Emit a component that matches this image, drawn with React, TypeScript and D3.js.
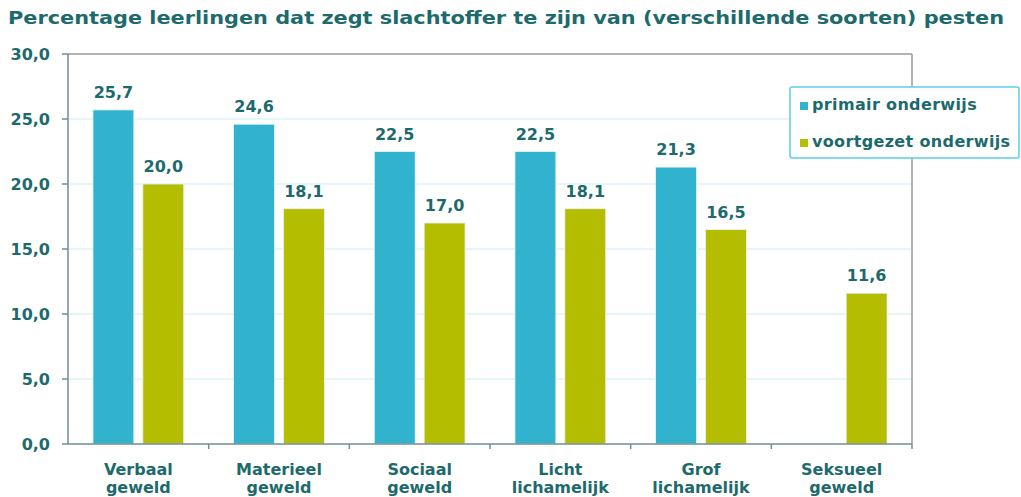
import * as d3 from 'd3';

const categories = [
  ['Verbaal', 'geweld'],
  ['Materieel', 'geweld'],
  ['Sociaal', 'geweld'],
  ['Licht', 'lichamelijk'],
  ['Grof', 'lichamelijk'],
  ['Seksueel', 'geweld'],
];
const primair: (number | null)[] = [25.7, 24.6, 22.5, 22.5, 21.3, null];
const voortgezet: (number | null)[] = [20.0, 18.1, 17.0, 18.1, 16.5, 11.6];
const seriesNames = ['primair onderwijs', 'voortgezet onderwijs'];
const yTicks = [0, 5, 10, 15, 20, 25, 30];

const W = 1021;
const H = 497;
const margin = { top: 54, right: 109, bottom: 53, left: 68 };
const TEXT = '#1d6a6c';
const COLORS = ['#31b3cf', '#b5bd00'];
const FONT = '"DejaVu Sans", Verdana, sans-serif';
const FS = 16;

const fmt = (v: number) => v.toFixed(1).replace('.', ',');

export default function App() {
  const innerW = W - margin.left - margin.right;
  const innerH = H - margin.top - margin.bottom;
  const keys = categories.map((c) => c.join(' '));

  const x = d3.scaleBand().domain(keys).range([0, innerW]);
  const x1 = d3.scaleBand().domain(['0', '1']).range([0, x.bandwidth()]).paddingInner(0.18).paddingOuter(0.5);
  const y = d3.scaleLinear().domain([0, 30]).range([innerH, 0]);
  const series = [primair, voortgezet];

  return (
    <svg width={W} height={H} style={{ position: 'absolute', left: 0, top: 0, background: '#fff' }} fontFamily={FONT}>
      <text x={8} y={24} fontSize={18} fontWeight="bold" fill={TEXT} textLength={996} lengthAdjust="spacingAndGlyphs">
        Percentage leerlingen dat zegt slachtoffer te zijn van (verschillende soorten) pesten
      </text>
      <g transform={`translate(${margin.left},${margin.top})`}>
        {yTicks.filter((t) => t > 0 && t < 30).map((t) => (
          <line key={t} x1={0} x2={innerW} y1={y(t)} y2={y(t)} stroke="#c9edf5" strokeWidth={1.2} />
        ))}
        <line x1={0} x2={innerW} y1={y(30)} y2={y(30)} stroke="#9a9a9a" strokeWidth={1.5} />
        <line x1={innerW} x2={innerW} y1={y(30)} y2={y(0)} stroke="#9a9a9a" strokeWidth={1.5} />
        {series.map((vals, si) =>
          vals.map((v, i) =>
            v == null ? null : (
              <g key={`${si}-${i}`}>
                <rect
                  x={(x(keys[i]) ?? 0) + (x1(String(si)) ?? 0)}
                  y={y(v)}
                  width={x1.bandwidth()}
                  height={innerH - y(v)}
                  fill={COLORS[si]}
                  stroke="#e6f6fa"
                  strokeWidth={0.8}
                />
                <text
                  x={(x(keys[i]) ?? 0) + (x1(String(si)) ?? 0) + x1.bandwidth() / 2}
                  y={y(v) - 12}
                  textAnchor="middle"
                  fontSize={FS}
                  fontWeight="bold"
                  fill={TEXT}
                >
                  {fmt(v)}
                </text>
              </g>
            )
          )
        )}
        {/* y axis */}
        <line x1={0} x2={0} y1={y(30)} y2={y(0)} stroke="#6f8f90" strokeWidth={1.5} />
        {yTicks.map((t) => (
          <g key={t} transform={`translate(0,${y(t)})`}>
            <line x1={-6} x2={0} stroke="#6f8f90" strokeWidth={1.5} />
            <text x={-18} dy="0.35em" textAnchor="end" fontSize={FS} fontWeight="bold" fill={TEXT}>
              {fmt(t)}
            </text>
          </g>
        ))}
        {/* x axis */}
        <line x1={0} x2={innerW} y1={innerH} y2={innerH} stroke="#6f8f90" strokeWidth={1.5} />
        {keys.map((k) => (
          <line key={k} x1={(x(k) ?? 0) + x.bandwidth()} x2={(x(k) ?? 0) + x.bandwidth()} y1={innerH} y2={innerH + 5} stroke="#6f8f90" strokeWidth={1.5} />
        ))}
        {categories.map((c, i) => (
          <text key={i} textAnchor="middle" fontSize={FS} fontWeight="bold" fill={TEXT}>
            <tspan x={(x(keys[i]) ?? 0) + x.bandwidth() / 2} y={innerH + 31}>{c[0]}</tspan>
            <tspan x={(x(keys[i]) ?? 0) + x.bandwidth() / 2} y={innerH + 49}>{c[1]}</tspan>
          </text>
        ))}
      </g>
      {/* legend */}
      <g transform="translate(790,87)">
        <rect x={0} y={0} width={229} height={71} fill="#fff" stroke="#5fcdf0" strokeWidth={1.5} rx={2} />
        {seriesNames.map((n, i) => (
          <g key={n} transform={`translate(10,${23 + i * 37})`}>
            <rect x={0} y={-8} width={8} height={8} fill={COLORS[i]} />
            <text x={12} fontSize={FS} fontWeight="bold" fill={TEXT} letterSpacing={0.35}>{n}</text>
          </g>
        ))}
      </g>
    </svg>
  );
}
